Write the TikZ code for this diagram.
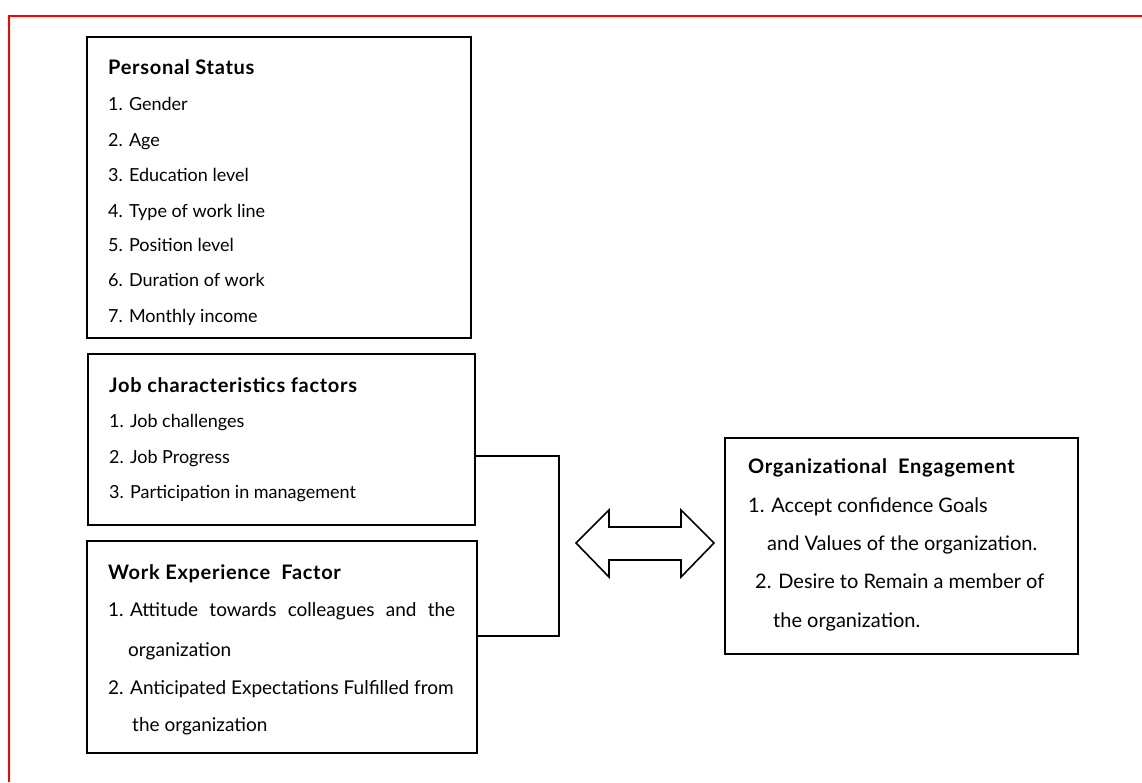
\documentclass[tikz,border=0pt]{standalone}
\usepackage{fontspec}
\setmainfont{Lato}
\newfontfamily\headfont[LetterSpace=3.5]{Lato}
\usetikzlibrary{calc}
\tikzstyle{box}=[rectangle,draw=black,line width=1.6pt,inner sep=0pt]
\tikzstyle{txt}=[anchor=base west,inner sep=0pt,font=\fontsize{18}{20}\selectfont]
\tikzstyle{txtw}=[txt,font=\fontsize{19}{22}\selectfont]
\tikzstyle{txte}=[txt,font=\fontsize{20}{22}\selectfont]
\tikzstyle{head}=[txt,font=\headfont\fontsize{20}{22}\selectfont\bfseries]
\tikzstyle{none}=[]

\begin{document}
\begin{tikzpicture}[x=1pt,y=-1pt]
		\useasboundingbox (0,0) rectangle (1142,782);
		\draw [red, line width=2.5pt] (9,782) -- (9,16) -- (1142,16);
		% boxes
		\node [style=box, minimum width=384, minimum height=301] (0) at (279, 187.5) {};
		\node [style=box, minimum width=387, minimum height=171] (1) at (281.5, 439.5) {};
		\node [style=box, minimum width=390, minimum height=212] (2) at (282, 647) {};
		\node [style=box, minimum width=353, minimum height=216] (3) at (901.5, 546) {};
		% personal status
		\node [style=head] (4) at (108, 74) {Personal Status};
		\node [style=txt] (5) at (108, 110) {1. Gender};
		\node [style=txt] (6) at (108, 146) {2. Age};
		\node [style=txt] (7) at (108, 181) {3. Education level};
		\node [style=txt] (8) at (108, 217) {4. Type of work line};
		\node [style=txt] (9) at (108, 251) {5. Position level};
		\node [style=txt] (10) at (108, 286) {6. Duration of work};
		\node [style=txt] (11) at (108, 322) {7. Monthly income};
		% job characteristics
		\node [style=head] (12) at (109, 392) {Job characteristics factors};
		\node [style=txt] (13) at (109, 427) {1. Job challenges};
		\node [style=txt] (14) at (109, 463) {2. Job Progress};
		\node [style=txt] (15) at (109, 498) {3. Participation in management};
		% work experience
		\node [style=head] (16) at (108, 579) {Work Experience\ \ Factor};
		\node [style=txtw] (17) at (108, 616) {1. \makebox[325pt][s]{Attitude towards colleagues and the}};
		\node [style=txtw] (18) at (128, 656) {organization};
		\node [style=txtw] (19) at (108, 694) {2. Anticipated Expectations Fulfilled from};
		\node [style=txtw] (20) at (132, 731) {the organization};
		% engagement
		\node [style=head] (21) at (748, 473) {Organizational\ \ Engagement};
		\node [style=txte] (22) at (748, 512) {1. Accept confidence Goals};
		\node [style=txte] (23) at (767, 550) {and Values of the organization.};
		\node [style=txte] (24) at (755, 588) {2. Desire to Remain a member of};
		\node [style=txte] (25) at (773, 627) {the organization.};
		% bracket
		\coordinate (26) at (559, 456);
		\coordinate (27) at (559, 636);
		\draw [line width=1.6pt] (26 -| 1.east) -- (26) -- (27) -- (27 -| 2.east);
		% double arrow
		\draw [line width=1.6pt, line join=miter] (576, 543) -- (609, 510) -- (609, 527) -- (681, 527)
			-- (681, 510) -- (714, 543) -- (681, 577) -- (681, 560) -- (609, 560)
			-- (609, 577) -- cycle;
\end{tikzpicture}
\end{document}
